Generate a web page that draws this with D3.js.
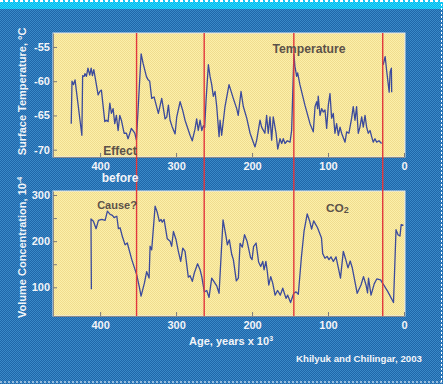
<!DOCTYPE html>
<html>
<head>
<meta charset="utf-8">
<script src="https://cdn.jsdelivr.net/npm/d3@7"></script>
<style>
  body { margin: 0; background: #2a74b6; }
  text { font-family: "Liberation Sans", Arial, sans-serif; }
</style>
</head>
<body>
<script>

// Vostok-style record, age in thousands of years before present
let tempAge = [438,437,435,433,424,423,421,420,418,416,413.6,411.8,410.1,408.3,402.6,400.4,398.3,
  393.8,391.7,389.5,387.2,385.1,382.9,380.7,378.6,376.3,374.1,372,368.4,365.4,363.2,358.9,354.3,352.2,
  346,343.4,339.1,336.8,334.7,332.1,329,323.3,318.9,314.5,312.2,310.1,307.9,305.3,301.3,299.1,294.7,
  291.2,288.2,281.6,278.7,275.1,272.9,270.8,268.4,266.2,264.1,262.4,
  260.5,257.5,255.3,253.1,251,248.7,246.5,243.4,242.1,240,235.6,230.3,224.7,220.2,218.2,214.5,211.5,
  207,202.6,196.1,193.9,189.5,187.4,183.1,180.8,178.7,176.4,174.2,172.1,168.4,166.2,163.2,161,158.9,
  156.6,153.6,150,147.9,
  144.9,143.6,141.3,140,137,130.4,123.7,119.4,117.1,114.9,113.7,112.9,110.5,108.4,106.3,104,101.8,
  99.6,97.4,95.3,93.1,90.9,88.7,86.4,84.2,82.1,77.6,75.5,72.5,68.9,66.8,64.5,62.4,60.2,58,55.7,53.6,
  51.3,49.2,47,44.7,42.6,40.5,38.2,36,33,29.5,
  28.5,
  27.4,24.8,22.9,19.5,18.2,16.6,16.2]
let tempVal = [-66.2,-60.0,-60.5,-59.8,-67.9,-59.2,-59.3,-58.9,-59.3,-58.1,-59.1,-58.1,-59.2,-58.3,-62.0,-61.5,-61.3,
  -65.9,-65.7,-65.9,-63.2,-64.7,-64.0,-66.2,-65.0,-67.2,-65.0,-65.7,-67.6,-67.6,-68.4,-66.9,-67.6,-68.6,
  -56.0,-57.4,-59.3,-59.8,-60.0,-62.5,-62.3,-64.7,-62.5,-65.5,-65.2,-63.5,-65.7,-66.6,-67.7,-65.2,-63.0,
  -64.3,-65.7,-67.9,-68.7,-67.0,-65.5,-67.2,-65.7,-67.2,-66.5,-66.8,
  -62.7,-57.6,-59.3,-60.5,-62.2,-61.5,-63.7,-68.1,-65.7,-67.9,-63.7,-60.5,-62.5,-64.0,-65.0,-61.5,-63.7,
  -65.4,-67.6,-69.6,-68.6,-65.7,-66.7,-67.6,-65.0,-67.6,-65.2,-68.6,-65.2,-67.6,-69.9,-68.4,-69.1,-68.4,
  -69.1,-68.7,-68.9,-67.2,
  -56.0,-57.8,-59.3,-58.8,-60.5,-63.5,-66.2,-67.4,-63.7,-63.0,-64.0,-62.2,-65.0,-64.0,-64.5,-64.2,-66.9,
  -63.5,-61.8,-65.4,-64.7,-67.6,-66.2,-67.9,-66.7,-67.6,-68.9,-67.4,-67.6,-65.4,-63.7,-65.7,-63.7,-67.6,-66.7,-65.2,-66.7,
  -65.0,-66.7,-67.6,-67.2,-68.1,-68.9,-68.4,-68.9,-68.7,-69.1,
  null,
  -57.6,-56.4,-58.4,-61.6,-58.6,-58.1,-61.6]

let co2Age = [411.5,412,408.8,405.3,402.2,397.8,393.4,390.4,386.8,383.8,381.6,378,375.9,373.7,370.7,367.1,
  364.2,358.3,351.8,348.4,346.1,341.7,338.7,335.5,334.2,332.1,327.6,324.7,322,319.7,318.2,315.8,311.6,
  307.9,305.8,303.5,300,297,293.9,291.2,288.2,283.9,281.6,278.6,276,271.7,268.4,266.2,262.8,259.6,256.6,
  253.1,246.5,243.4,238.2,234.2,232.5,229.9,226.7,224.6,220.7,218,215.8,212.8,209.9,206.6,202,200,198,
  194.7,191.4,188.6,185.9,184.2,181.8,179.9,178,175.4,172.8,169.7,166.4,162.8,159.6,155.3,153.1,149.3,
  145.1,142.1,139.1,135.1,131.6,127.4,124.1,121.6,118.9,113.8,108.6,107,104,101.3,98.7,96.1,93,89.5,
  86.4,83.6,79.9,77,73.7,70.8,68.2,61.6,56.6,53.3,50,48,46.7,43.4,39.1,35.8,30.9,27,21.1,13.8,10.5,7.9,
  5.3,3.7,0.7]
let co2Val = [96,248,243,227,245,247,245,265,258,256,251,254,227,229,210,192,
  196,160,127,101,81,109,134,120,189,181,276,262,243,247,241,247,205,
  200,189,221,203,178,156,185,178,122,125,113,131,151,138,123,90,93,78,
  120,103,87,246,210,192,203,171,160,114,120,195,187,214,200,165,160,188,
  196,155,145,156,138,156,134,105,123,109,83,93,83,98,76,83,67,
  87,90,85,164,221,259,243,226,244,229,207,173,163,167,160,166,156,166,
  142,120,178,162,142,157,143,87,105,123,105,88,120,83,108,118,116,106,90,67,225,214,
  211,236,234]

let redAges = [352, 263, 145, 28]
let ageTicks = [400, 300, 200, 100, 0]
let tempTicks = [-55, -60, -65, -70]
let co2Ticks = [100, 150, 200, 250, 300]

let width = 443, height = 384
let left = 53, right = 405
let top1 = 33, bot1 = 157, top2 = 191, bot2 = 316
let white = '#f2f4f8', ink = '#5c5249'

let svg = d3.select('body').append('svg')
    .attr('width', width)
    .attr('height', height)

let defs = svg.append('defs')
function checker(id, c1, c2) {
    let p = defs.append('pattern').attr('id', id)
        .attr('width', 2).attr('height', 2)
        .attr('patternUnits', 'userSpaceOnUse')
    p.append('rect').attr('width', 2).attr('height', 2).attr('fill', c1)
    p.append('rect').attr('width', 1).attr('height', 1).attr('fill', c2)
    p.append('rect').attr('x', 1).attr('y', 1).attr('width', 1).attr('height', 1).attr('fill', c2)
}
checker('blue', '#1f66a8', '#3a88c8')
checker('cyan', '#00b8ec', '#30d4fa')
checker('yellow', '#fcf0aa', '#f0dc8e')

// background
svg.append('rect').attr('width', width).attr('height', height).attr('fill', 'url(#blue)')
svg.append('rect').attr('width', width).attr('height', 9).attr('fill', 'url(#cyan)')
svg.append('line').attr('x1', 0).attr('x2', width).attr('y1', 1).attr('y2', 1)
    .attr('stroke', 'white').attr('stroke-width', 2).attr('stroke-dasharray', '3,2')
svg.append('line').attr('x1', 0).attr('x2', width).attr('y1', 382).attr('y2', 382)
    .attr('stroke', 'white').attr('stroke-width', 1).attr('stroke-dasharray', '2,2')
svg.append('line').attr('x1', 441.5).attr('x2', 441.5).attr('y1', 0).attr('y2', height)
    .attr('stroke', 'white').attr('stroke-width', 1).attr('stroke-dasharray', '2,2')

let x = d3.scaleLinear().domain([462, 0]).range([left, 404])
let yT = d3.scaleLinear().domain([-71.07, -52.96]).range([bot1, top1])
let yC = d3.scaleLinear().domain([37.8, 308.7]).range([bot2, top2])

function panel(y0, y1) {
    svg.append('rect')
        .attr('x', left).attr('y', y0)
        .attr('width', right - left).attr('height', y1 - y0)
        .attr('fill', 'url(#yellow)')
        .attr('stroke', '#e4e8ee').attr('stroke-width', 1)
}
panel(top1, bot1)
panel(top2, bot2)

function styleAxis(g) {
    g.select('.domain').attr('stroke', '#8a8a8a')
    g.selectAll('.tick line').attr('stroke', '#7a7a7a')
    g.selectAll('.tick text')
        .attr('fill', white)
        .attr('font-family', '"Liberation Sans", Arial, sans-serif')
        .attr('font-size', 11)
        .attr('font-weight', 'bold')
}

svg.append('g').attr('transform', `translate(${left},0)`)
    .call(d3.axisLeft(yT).tickValues(tempTicks).tickFormat(d => d)
        .tickSizeInner(-4).tickSizeOuter(0).tickPadding(3))
    .call(styleAxis)
svg.append('g').attr('transform', `translate(0,${bot1})`)
    .call(d3.axisBottom(x).tickValues(ageTicks).tickFormat(d => d)
        .tickSizeInner(-4).tickSizeOuter(0).tickPadding(5))
    .call(styleAxis)

svg.append('g').attr('transform', `translate(${left},0)`)
    .call(d3.axisLeft(yC).tickValues(co2Ticks).tickFormat(d => d % 100 === 0 ? d : '')
        .tickSizeInner(-4).tickSizeOuter(0).tickPadding(3))
    .call(styleAxis)
svg.append('g').attr('transform', `translate(0,${bot2})`)
    .call(d3.axisBottom(x).tickValues(ageTicks).tickFormat(d => d)
        .tickSizeInner(-4).tickSizeOuter(0).tickPadding(5))
    .call(styleAxis)

// series
let tempLine = d3.line()
    .defined(i => tempVal[i] !== null)
    .x(i => x(tempAge[i]))
    .y(i => yT(tempVal[i]))
svg.append('path')
    .attr('d', tempLine(d3.range(tempAge.length)))
    .attr('fill', 'none')
    .attr('stroke', '#3b4a9c')
    .attr('stroke-width', 1.3)
    .attr('stroke-linejoin', 'round')

let co2Line = d3.line()
    .x(i => x(co2Age[i]))
    .y(i => yC(co2Val[i]))
svg.append('path')
    .attr('d', co2Line(d3.range(co2Age.length)))
    .attr('fill', 'none')
    .attr('stroke', '#3b4a9c')
    .attr('stroke-width', 1.3)
    .attr('stroke-linejoin', 'round')

// red markers through both panels
svg.append('g').selectAll('line')
    .data(redAges)
    .enter().append('line')
    .attr('x1', d => x(d)).attr('x2', d => x(d))
    .attr('y1', top1).attr('y2', bot2)
    .attr('stroke', '#e2363c')
    .attr('stroke-width', 1.4)

// labels
svg.append('text')
    .attr('transform', 'translate(26,91.5) rotate(-90)')
    .attr('text-anchor', 'middle')
    .attr('font-size', 11).attr('font-weight', 'bold').attr('fill', white)
    .text('Surface Temperature, °C')

let vlab = svg.append('text')
    .attr('transform', 'translate(26,318) rotate(-90)')
    .attr('font-size', 11).attr('font-weight', 'bold').attr('fill', white)
vlab.append('tspan').text('Volume Concentration, 10')
vlab.append('tspan').attr('font-size', 7).attr('dy', -4).text('-4')

let alab = svg.append('text')
    .attr('x', 189).attr('y', 345)
    .attr('font-size', 11).attr('font-weight', 'bold').attr('fill', white)
alab.append('tspan').text('Age, years x 10')
alab.append('tspan').attr('font-size', 7).attr('dy', -4).text('3')

svg.append('text')
    .attr('x', 422).attr('y', 362)
    .attr('text-anchor', 'end')
    .attr('font-size', 9.7).attr('font-weight', 'bold').attr('fill', white)
    .text('Khilyuk and Chilingar, 2003')

svg.append('text')
    .attr('x', 120).attr('y', 182)
    .attr('text-anchor', 'middle')
    .attr('font-size', 12).attr('font-weight', 'bold').attr('fill', white)
    .text('before')

svg.append('text')
    .attr('x', 120).attr('y', 155)
    .attr('text-anchor', 'middle')
    .attr('font-size', 12).attr('font-weight', 'bold').attr('fill', ink)
    .text('Effect')

svg.append('text')
    .attr('x', 309).attr('y', 52.5)
    .attr('text-anchor', 'middle')
    .attr('font-size', 12.2).attr('font-weight', 'bold').attr('fill', ink)
    .text('Temperature')

svg.append('text')
    .attr('x', 117).attr('y', 209)
    .attr('text-anchor', 'middle')
    .attr('font-size', 11).attr('font-weight', 'bold').attr('fill', ink)
    .text('Cause?')

let clab = svg.append('text')
    .attr('x', 326).attr('y', 212)
    .attr('font-size', 11.8).attr('font-weight', 'bold').attr('fill', ink)
clab.append('tspan').text('CO')
clab.append('tspan').attr('font-size', 9).attr('dy', 1).text('2')

</script>
</body>
</html>
